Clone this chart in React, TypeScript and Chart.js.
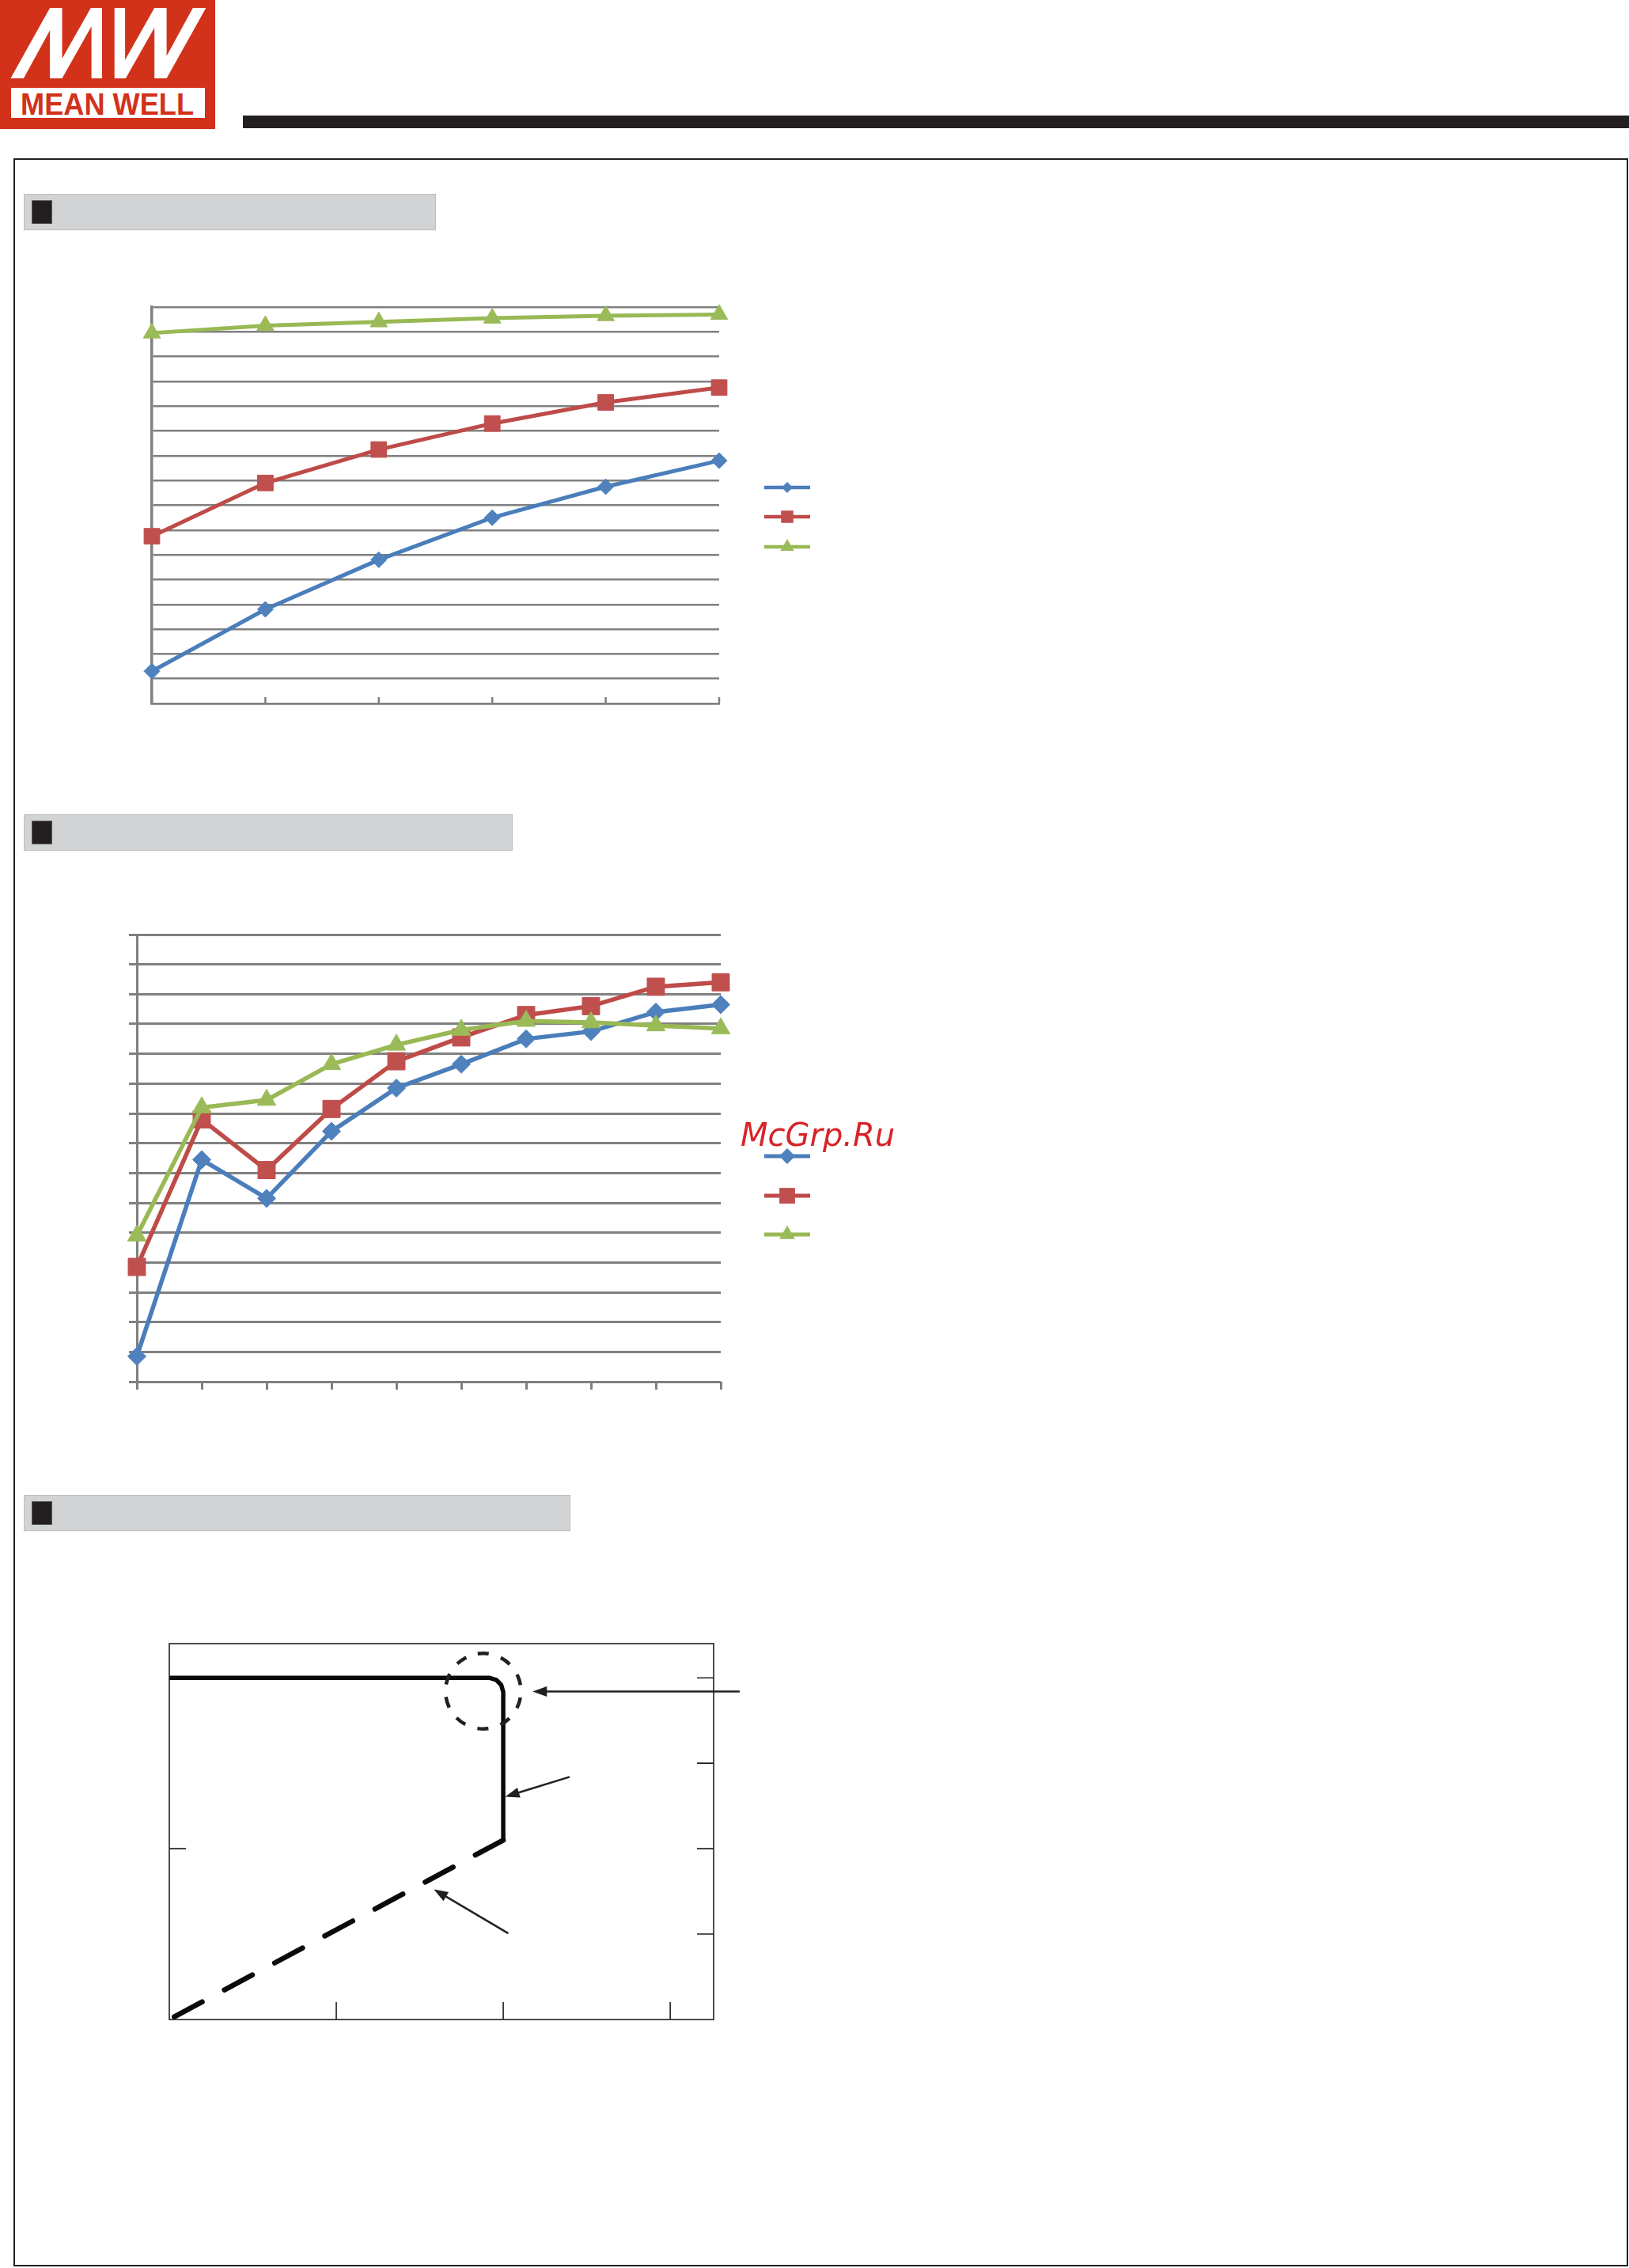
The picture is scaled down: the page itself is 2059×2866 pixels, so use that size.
import React, { useEffect, useRef } from 'react';
import { Chart, registerables } from 'chart.js';

Chart.register(...registerables);

// ---------- Chart 1 data ----------
const chart1Categories = ['0', '20', '40', '60', '80', '100'];
const chart1SeriesA = [62.6, 67.6, 71.6, 75.0, 77.5, 79.6];
const chart1SeriesB = [73.5, 77.8, 80.5, 82.6, 84.3, 85.5];
const chart1SeriesC = [89.9, 90.5, 90.8, 91.1, 91.3, 91.4];
const chart1YMin = 60;
const chart1YMax = 92;
const chart1YStep = 2;

// ---------- Chart 2 data ----------
const chart2Categories = ['1', '2', '3', '4', '5', '6', '7', '8', '9', '10'];
const chart2SeriesA = [61.7, 74.9, 72.3, 76.8, 79.7, 81.3, 83.0, 83.5, 84.8, 85.3];
const chart2SeriesB = [67.7, 77.6, 74.2, 78.3, 81.5, 83.1, 84.6, 85.2, 86.5, 86.8];
const chart2SeriesC = [69.8, 78.4, 78.9, 81.3, 82.6, 83.6, 84.2, 84.1, 83.9, 83.7];
const chart2YMin = 60;
const chart2YMax = 90;
const chart2YStep = 2;

// ---------- Chart 3 data (output current % vs output voltage %) ----------
const chart3SolidX = [0, 95.8, 97.9, 99.4, 100, 100];
const chart3SolidY = [100, 100, 99.4, 97.9, 95.8, 52.5];
const chart3DashedX = [100, 0];
const chart3DashedY = [52.5, 0];
const chart3XMax = 163;
const chart3YMax = 110;
const chart3BottomTicks = [50, 100, 150];
const chart3RightTicks = [25, 50, 75, 100];
const chart3LeftTicks = [50];
const chart3Circle = { x: 94.0, y: 96.1, r: 11.3 };
const chart3ArrowFrom = [[170.8, 96.0], [119.9, 71.0], [101.5, 25.2]];
const chart3ArrowTo = [[108.8, 96.0], [100.6, 65.2], [79.2, 38.1]];

const INK = '#231f20';
const GRID = '#808080';
const BLUE_LINE = '#4a7ebb';
const BLUE_FILL = '#4f81bd';
const RED_LINE = '#be4b48';
const RED_FILL = '#c0504d';
const GREEN_LINE = '#98b954';
const GREEN_FILL = '#9bbb59';

function drawMarker(ctx: CanvasRenderingContext2D, style: string, x: number, y: number, r: number, fill: string) {
  ctx.beginPath();
  if (style === 'rectRot') {
    ctx.moveTo(x - r, y);
    ctx.lineTo(x, y - r);
    ctx.lineTo(x + r, y);
    ctx.lineTo(x, y + r);
    ctx.closePath();
  } else if (style === 'rect') {
    const s = Math.SQRT1_2 * r;
    ctx.rect(x - s, y - s, 2 * s, 2 * s);
  } else {
    const a = (2 * Math.PI) / 3;
    ctx.moveTo(x, y - r);
    ctx.lineTo(x + Math.sin(a) * r, y - Math.cos(a) * r);
    ctx.lineTo(x + Math.sin(2 * a) * r, y - Math.cos(2 * a) * r);
    ctx.closePath();
  }
  ctx.fillStyle = fill;
  ctx.fill();
}

const lineLegend = {
  id: 'lineLegend',
  afterDraw(chart: any, _args: any, opts: any) {
    const ctx = chart.ctx as CanvasRenderingContext2D;
    ctx.save();
    chart.data.datasets.forEach((ds: any, i: number) => {
      const cy = opts.ys[i];
      ctx.strokeStyle = ds.borderColor;
      ctx.lineWidth = opts.lineWidth;
      ctx.lineCap = 'butt';
      ctx.beginPath();
      ctx.moveTo(opts.x, cy);
      ctx.lineTo(opts.x + opts.length, cy);
      ctx.stroke();
      drawMarker(ctx, ds.pointStyle, opts.x + opts.length / 2, cy, opts.radii[i], ds.pointBackgroundColor);
    });
    ctx.restore();
  },
};

const innerCategoryTicks = {
  id: 'innerCategoryTicks',
  beforeDatasetsDraw(chart: any, _args: any, opts: any) {
    if (!opts || !opts.enabled) return;
    const ctx = chart.ctx as CanvasRenderingContext2D;
    const a = chart.chartArea;
    const x = chart.scales.x;
    ctx.save();
    ctx.strokeStyle = opts.color;
    ctx.lineWidth = opts.width;
    ctx.beginPath();
    chart.data.labels.forEach((_l: any, i: number) => {
      const px = x.getPixelForValue(i);
      ctx.moveTo(px, a.bottom);
      ctx.lineTo(px, a.bottom - opts.length);
    });
    ctx.stroke();
    ctx.restore();
  },
};

function drawArrow(ctx: CanvasRenderingContext2D, x1: number, y1: number, x2: number, y2: number, head: number, half: number) {
  const ang = Math.atan2(y2 - y1, x2 - x1);
  const bx = x2 - Math.cos(ang) * head;
  const by = y2 - Math.sin(ang) * head;
  ctx.beginPath();
  ctx.moveTo(x1, y1);
  ctx.lineTo(bx + Math.cos(ang) * 2, by + Math.sin(ang) * 2);
  ctx.stroke();
  ctx.beginPath();
  ctx.moveTo(x2, y2);
  ctx.lineTo(bx + Math.sin(ang) * half, by - Math.cos(ang) * half);
  ctx.lineTo(bx - Math.sin(ang) * half, by + Math.cos(ang) * half);
  ctx.closePath();
  ctx.fill();
}

const protectionDecor = {
  id: 'protectionDecor',
  afterDraw(chart: any) {
    const ctx = chart.ctx as CanvasRenderingContext2D;
    const a = chart.chartArea;
    const x = chart.scales.x;
    const y = chart.scales.y;
    ctx.save();
    ctx.strokeStyle = INK;
    ctx.fillStyle = INK;
    ctx.lineWidth = 1.6;
    ctx.strokeRect(a.left, a.top, a.right - a.left, a.bottom - a.top);
    ctx.beginPath();
    chart3BottomTicks.forEach((v) => {
      const px = x.getPixelForValue(v);
      ctx.moveTo(px, a.bottom);
      ctx.lineTo(px, a.bottom - 22);
    });
    chart3RightTicks.forEach((v) => {
      const py = y.getPixelForValue(v);
      ctx.moveTo(a.right, py);
      ctx.lineTo(a.right - 21, py);
    });
    chart3LeftTicks.forEach((v) => {
      const py = y.getPixelForValue(v);
      ctx.moveTo(a.left, py);
      ctx.lineTo(a.left + 21, py);
    });
    ctx.stroke();

    // dashed circle
    const cx = x.getPixelForValue(chart3Circle.x);
    const cy = y.getPixelForValue(chart3Circle.y);
    const r = x.getPixelForValue(chart3Circle.x + chart3Circle.r) - cx;
    ctx.lineWidth = 4.5;
    ctx.setLineDash([14, 16]);
    ctx.beginPath();
    const start = -Math.PI / 2 - 7 / r;
    ctx.arc(cx, cy, r, start, start + Math.PI * 2);
    ctx.stroke();
    ctx.setLineDash([]);

    // arrows
    ctx.lineWidth = 2.5;
    chart3ArrowFrom.forEach((f, i) => {
      const t = chart3ArrowTo[i];
      drawArrow(
        ctx,
        x.getPixelForValue(f[0]),
        y.getPixelForValue(f[1]),
        x.getPixelForValue(t[0]),
        y.getPixelForValue(t[1]),
        18,
        6.5
      );
    });
    ctx.restore();
  },
};

function lineDataset(label: string, data: number[], line: string, fill: string, style: string, radius: number, width: number, order: number) {
  return {
    label,
    data,
    borderColor: line,
    backgroundColor: fill,
    pointBackgroundColor: fill,
    pointBorderColor: fill,
    pointBorderWidth: 1,
    pointStyle: style,
    pointRadius: radius,
    pointHoverRadius: radius,
    borderWidth: width,
    tension: 0,
    clip: false,
    order,
  };
}

function chart1Config(): any {
  return {
    type: 'line',
    data: {
      labels: chart1Categories,
      datasets: [
        lineDataset('A', chart1SeriesA, BLUE_LINE, BLUE_FILL, 'rectRot', 10, 5, 2),
        lineDataset('B', chart1SeriesB, RED_LINE, RED_FILL, 'rect', 14, 5, 1),
        lineDataset('C', chart1SeriesC, GREEN_LINE, GREEN_FILL, 'triangle', 12.5, 5, 0),
      ],
    },
    options: {
      responsive: false,
      animation: false,
      devicePixelRatio: 1,
      events: [],
      layout: { padding: { left: 42, top: 28, right: 191, bottom: 31 } },
      plugins: {
        legend: { display: false },
        tooltip: { enabled: false },
        lineLegend: { x: 816, length: 58, ys: [256, 293, 331], radii: [7, 11, 10], lineWidth: 4.5 },
        innerCategoryTicks: { enabled: true, color: GRID, width: 2.5, length: 8 },
      },
      scales: {
        x: {
          type: 'category',
          offset: false,
          grid: { display: false, drawTicks: false },
          ticks: { display: false },
          border: { display: true, color: GRID, width: 2.5 },
        },
        y: {
          min: chart1YMin,
          max: chart1YMax,
          ticks: { display: false, stepSize: chart1YStep, maxTicksLimit: 100 },
          grid: { color: GRID, lineWidth: 2.5, drawTicks: false },
          border: { display: true, color: GRID, width: 3.5 },
        },
      },
    },
    plugins: [lineLegend, innerCategoryTicks],
  };
}

function chart2Config(): any {
  return {
    type: 'line',
    data: {
      labels: chart2Categories,
      datasets: [
        lineDataset('A', chart2SeriesA, BLUE_LINE, BLUE_FILL, 'rectRot', 11.5, 5.5, 2),
        lineDataset('B', chart2SeriesB, RED_LINE, RED_FILL, 'rect', 15.5, 5.5, 1),
        lineDataset('C', chart2SeriesC, GREEN_LINE, GREEN_FILL, 'triangle', 13.5, 5.5, 0),
      ],
    },
    options: {
      responsive: false,
      animation: false,
      devicePixelRatio: 1,
      events: [],
      layout: { padding: { left: 43, top: 31, right: 189, bottom: 44 } },
      plugins: {
        legend: { display: false },
        tooltip: { enabled: false },
        lineLegend: { x: 846, length: 58, ys: [311, 361, 410], radii: [10, 14, 11.5], lineWidth: 5 },
      },
      scales: {
        x: {
          type: 'category',
          offset: false,
          grid: { display: true, drawOnChartArea: false, drawTicks: true, tickLength: 10, color: GRID, lineWidth: 3 },
          ticks: { display: false },
          border: { display: false },
        },
        y: {
          min: chart2YMin,
          max: chart2YMax,
          ticks: { display: false, stepSize: chart2YStep, maxTicksLimit: 100 },
          grid: { color: GRID, lineWidth: 3, drawTicks: true, tickLength: 10 },
          border: { display: true, color: GRID, width: 3 },
        },
      },
    },
    plugins: [lineLegend],
  };
}

function chart3Config(): any {
  const solid = chart3SolidX.map((v, i) => ({ x: v, y: chart3SolidY[i] }));
  const dashed = chart3DashedX.map((v, i) => ({ x: v, y: chart3DashedY[i] }));
  return {
    type: 'scatter',
    data: {
      datasets: [
        {
          label: 'solid',
          data: solid,
          showLine: true,
          borderColor: '#0a0a0a',
          borderWidth: 5.5,
          borderJoinStyle: 'round',
          borderCapStyle: 'butt',
          pointRadius: 0,
          pointHoverRadius: 0,
          clip: false,
        },
        {
          label: 'dashed',
          data: dashed,
          showLine: true,
          borderColor: '#0a0a0a',
          borderWidth: 6.5,
          borderDash: [40, 32],
          borderCapStyle: 'round',
          pointRadius: 0,
          pointHoverRadius: 0,
          clip: false,
        },
      ],
    },
    options: {
      responsive: false,
      animation: false,
      devicePixelRatio: 1,
      events: [],
      layout: { padding: { left: 34, top: 37, right: 228, bottom: 28 } },
      plugins: { legend: { display: false }, tooltip: { enabled: false } },
      scales: {
        x: {
          type: 'linear',
          min: 0,
          max: chart3XMax,
          ticks: { display: false },
          grid: { display: false, drawTicks: false },
          border: { display: false },
        },
        y: {
          type: 'linear',
          min: 0,
          max: chart3YMax,
          ticks: { display: false },
          grid: { display: false, drawTicks: false },
          border: { display: false },
        },
      },
    },
    plugins: [protectionDecor],
  };
}

function ChartCanvas(props: { make: () => any; left: number; top: number; width: number; height: number }) {
  const ref = useRef<HTMLCanvasElement | null>(null);
  useEffect(() => {
    if (!ref.current) return;
    const chart = new Chart(ref.current, props.make());
    return () => chart.destroy();
  }, []);
  return (
    <canvas
      ref={ref}
      width={props.width}
      height={props.height}
      style={{ position: 'absolute', left: props.left, top: props.top, width: props.width, height: props.height }}
    />
  );
}

function SectionHeader(props: { top: number; width: number }) {
  return (
    <div
      style={{
        position: 'absolute',
        left: 30,
        top: props.top,
        width: props.width,
        height: 46,
        boxSizing: 'border-box',
        background: '#d1d3d4',
        border: '1.5px solid #bcbec0',
      }}
    >
      <div
        style={{
          position: 'absolute',
          left: 9,
          top: 7,
          width: 26,
          height: 30,
          boxSizing: 'border-box',
          background: INK,
          border: '1px solid #58595b',
        }}
      />
    </div>
  );
}

const M_POINTS: number[][] = [
  [13.4, 99], [63.1, 10], [78.5, 10], [78.5, 74], [114.8, 10], [129, 10], [129, 99],
  [115.6, 99], [115.6, 33.3], [78.5, 99], [63.1, 99], [63.1, 38.3], [29.9, 99],
];

function Logo() {
  const m = M_POINTS.map((p) => p.join(',')).join(' ');
  const w = M_POINTS.map((p) => [273.7 - p[0], 109 - p[1]].join(',')).join(' ');
  return (
    <svg width={272} height={163} style={{ position: 'absolute', left: 0, top: 0 }}>
      <rect x={0} y={0} width={272} height={163} fill="#d2321a" />
      <polygon points={m} fill="#ffffff" />
      <polygon points={w} fill="#ffffff" />
      <rect x={14} y={111} width={245} height={38} fill="#ffffff" />
      <text
        x={26}
        y={144.5}
        fill="#d2321a"
        fontFamily="'Liberation Sans', Arial, sans-serif"
        fontWeight="bold"
        fontSize={38}
        textLength={219}
        lengthAdjust="spacingAndGlyphs"
      >
        MEAN WELL
      </text>
    </svg>
  );
}

export default function App() {
  return (
    <div
      style={{
        position: 'absolute',
        left: 0,
        top: 0,
        width: 2059,
        height: 2866,
        overflow: 'hidden',
        background: '#ffffff',
      }}
    >
      <Logo />
      <div style={{ position: 'absolute', left: 307, top: 146, width: 1752, height: 16, background: INK }} />
      <div
        style={{
          position: 'absolute',
          left: 17,
          top: 200,
          width: 2041,
          height: 2664,
          boxSizing: 'border-box',
          border: `2px solid ${INK}`,
        }}
      />
      <SectionHeader top={245} width={521} />
      <SectionHeader top={1029} width={618} />
      <SectionHeader top={1889} width={691} />

      <ChartCanvas make={chart1Config} left={150} top={360} width={950} height={560} />
      <ChartCanvas make={chart2Config} left={120} top={1150} width={980} height={650} />
      <ChartCanvas make={chart3Config} left={180} top={2040} width={950} height={540} />

      <div
        style={{
          position: 'absolute',
          left: 936,
          top: 1414,
          fontFamily: "'DejaVu Sans', sans-serif",
          fontStyle: 'italic',
          fontSize: 40,
          lineHeight: '40px',
          color: '#d62428',
          whiteSpace: 'nowrap',
        }}
      >
        McGrp.Ru
      </div>
    </div>
  );
}
